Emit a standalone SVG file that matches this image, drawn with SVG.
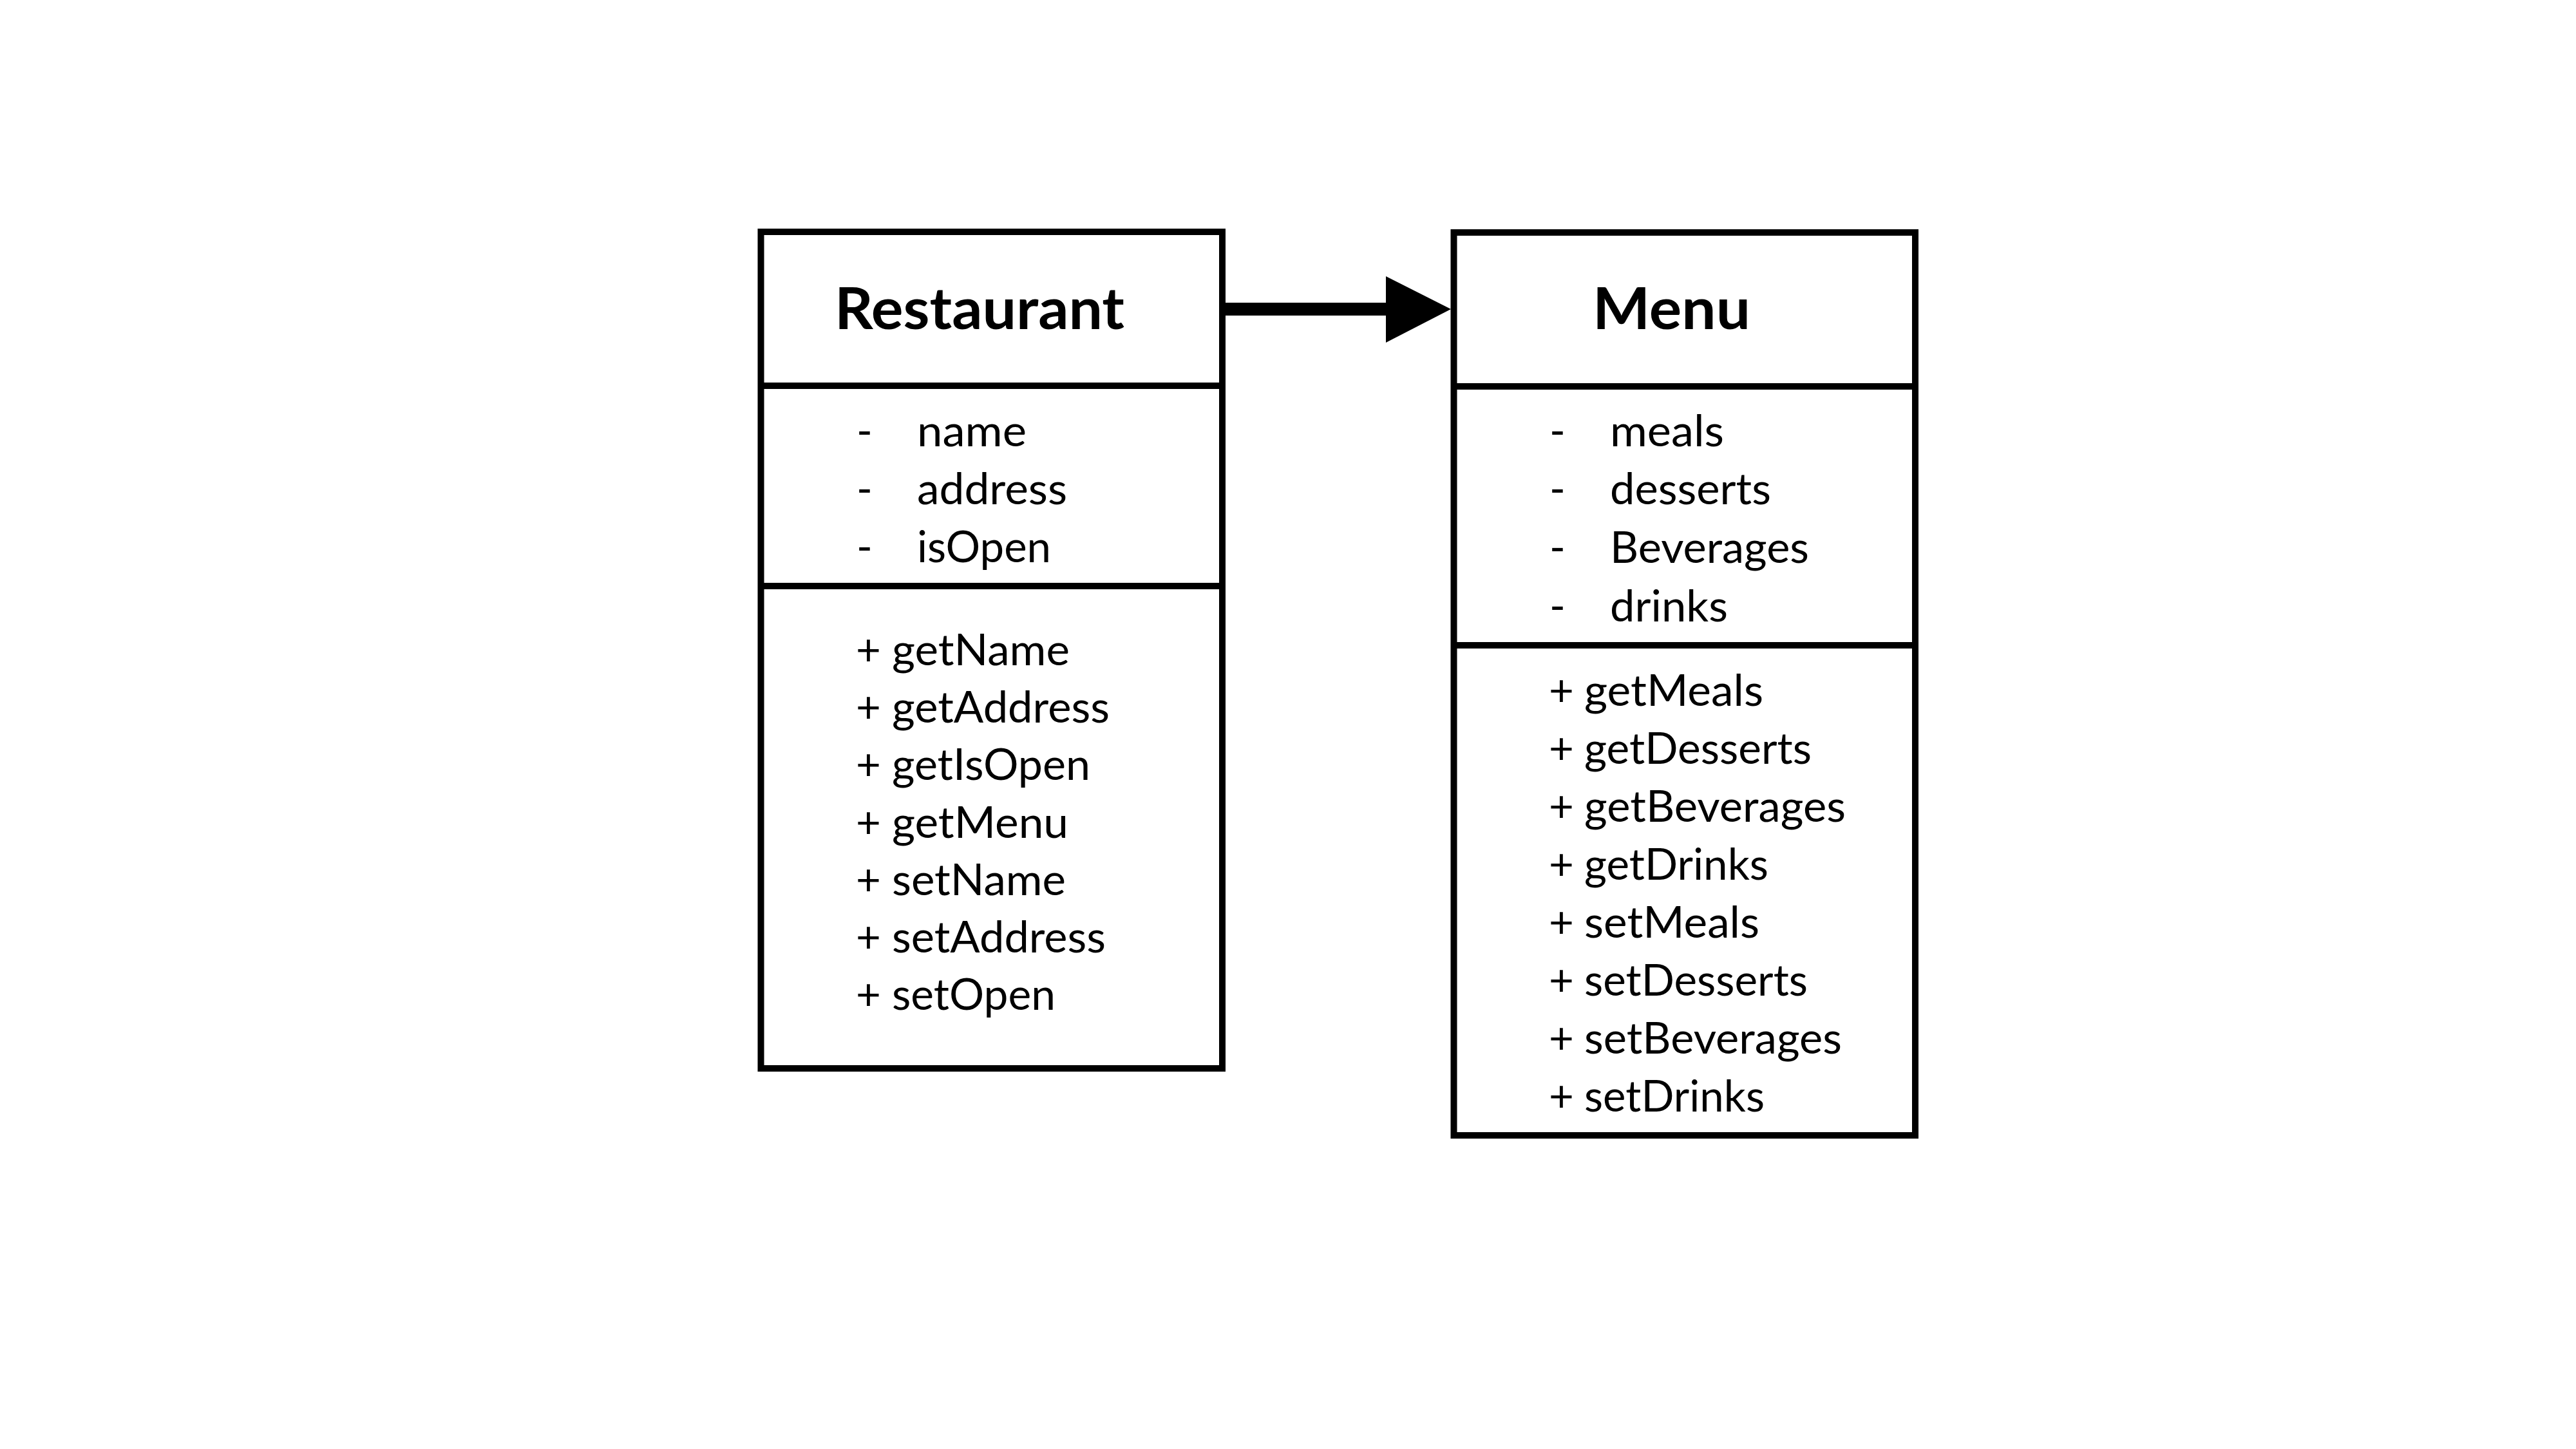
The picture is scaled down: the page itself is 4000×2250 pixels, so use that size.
<svg xmlns="http://www.w3.org/2000/svg" width="4000" height="2250" viewBox="0 0 4000 2250">
<style>
.box{fill:#fff;stroke:#000;stroke-width:10}
.div{stroke:#000;stroke-width:10}
.t{font-family:Lato,"Liberation Sans",sans-serif;font-size:67px;fill:#000}
.h{font-family:Lato,"Liberation Sans",sans-serif;font-size:89px;font-weight:bold;fill:#000}
</style>
<rect width="4000" height="2250" fill="#fff"/>
<g id="connectors">
<rect x="1900" y="470" width="254" height="20" fill="#000"/>
<polygon points="2152,429 2253,480 2152,532" fill="#000"/>
</g>
<g id="restaurant">
<rect class="box" x="1181.5" y="360" width="716.5" height="1299"/>
<line class="div" x1="1181.5" y1="599" x2="1898" y2="599"/>
<line class="div" x1="1181.5" y1="910" x2="1898" y2="910"/>
<text class="h" x="1296" y="511" textLength="450" lengthAdjust="spacingAndGlyphs">Restaurant</text>
<text class="t" x="1330" y="693">-</text>
<text class="t" x="1424" y="693" textLength="170" lengthAdjust="spacingAndGlyphs">name</text>
<text class="t" x="1330" y="783">-</text>
<text class="t" x="1424" y="783" textLength="233" lengthAdjust="spacingAndGlyphs">address</text>
<text class="t" x="1330" y="873">-</text>
<text class="t" x="1424" y="873" textLength="208" lengthAdjust="spacingAndGlyphs">isOpen</text>
<text class="t" y="1033"><tspan x="1329">+</tspan> <tspan x="1385" textLength="276" lengthAdjust="spacingAndGlyphs">getName</tspan></text>
<text class="t" y="1122"><tspan x="1329">+</tspan> <tspan x="1385" textLength="338" lengthAdjust="spacingAndGlyphs">getAddress</tspan></text>
<text class="t" y="1211"><tspan x="1329">+</tspan> <tspan x="1385" textLength="308" lengthAdjust="spacingAndGlyphs">getIsOpen</tspan></text>
<text class="t" y="1301"><tspan x="1329">+</tspan> <tspan x="1385" textLength="274" lengthAdjust="spacingAndGlyphs">getMenu</tspan></text>
<text class="t" y="1390"><tspan x="1329">+</tspan> <tspan x="1385" textLength="270" lengthAdjust="spacingAndGlyphs">setName</tspan></text>
<text class="t" y="1479"><tspan x="1329">+</tspan> <tspan x="1385" textLength="332" lengthAdjust="spacingAndGlyphs">setAddress</tspan></text>
<text class="t" y="1568"><tspan x="1329">+</tspan> <tspan x="1385" textLength="254" lengthAdjust="spacingAndGlyphs">setOpen</tspan></text>
</g>
<g id="menu">
<rect class="box" x="2257.5" y="361" width="716.5" height="1402"/>
<line class="div" x1="2257.5" y1="600" x2="2974" y2="600"/>
<line class="div" x1="2257.5" y1="1002" x2="2974" y2="1002"/>
<text class="h" x="2473" y="511" textLength="245" lengthAdjust="spacingAndGlyphs">Menu</text>
<text class="t" x="2406" y="693">-</text>
<text class="t" x="2500" y="693" textLength="177" lengthAdjust="spacingAndGlyphs">meals</text>
<text class="t" x="2406" y="783">-</text>
<text class="t" x="2500" y="783" textLength="250" lengthAdjust="spacingAndGlyphs">desserts</text>
<text class="t" x="2406" y="874">-</text>
<text class="t" x="2500" y="874" textLength="309" lengthAdjust="spacingAndGlyphs">Beverages</text>
<text class="t" x="2406" y="965">-</text>
<text class="t" x="2500" y="965" textLength="183" lengthAdjust="spacingAndGlyphs">drinks</text>
<text class="t" y="1096"><tspan x="2405">+</tspan> <tspan x="2460" textLength="278" lengthAdjust="spacingAndGlyphs">getMeals</tspan></text>
<text class="t" y="1186"><tspan x="2405">+</tspan> <tspan x="2460" textLength="353" lengthAdjust="spacingAndGlyphs">getDesserts</tspan></text>
<text class="t" y="1276"><tspan x="2405">+</tspan> <tspan x="2460" textLength="406" lengthAdjust="spacingAndGlyphs">getBeverages</tspan></text>
<text class="t" y="1366"><tspan x="2405">+</tspan> <tspan x="2460" textLength="286" lengthAdjust="spacingAndGlyphs">getDrinks</tspan></text>
<text class="t" y="1456"><tspan x="2405">+</tspan> <tspan x="2460" textLength="272" lengthAdjust="spacingAndGlyphs">setMeals</tspan></text>
<text class="t" y="1546"><tspan x="2405">+</tspan> <tspan x="2460" textLength="347" lengthAdjust="spacingAndGlyphs">setDesserts</tspan></text>
<text class="t" y="1636"><tspan x="2405">+</tspan> <tspan x="2460" textLength="400" lengthAdjust="spacingAndGlyphs">setBeverages</tspan></text>
<text class="t" y="1726"><tspan x="2405">+</tspan> <tspan x="2460" textLength="280" lengthAdjust="spacingAndGlyphs">setDrinks</tspan></text>
</g>
</svg>
